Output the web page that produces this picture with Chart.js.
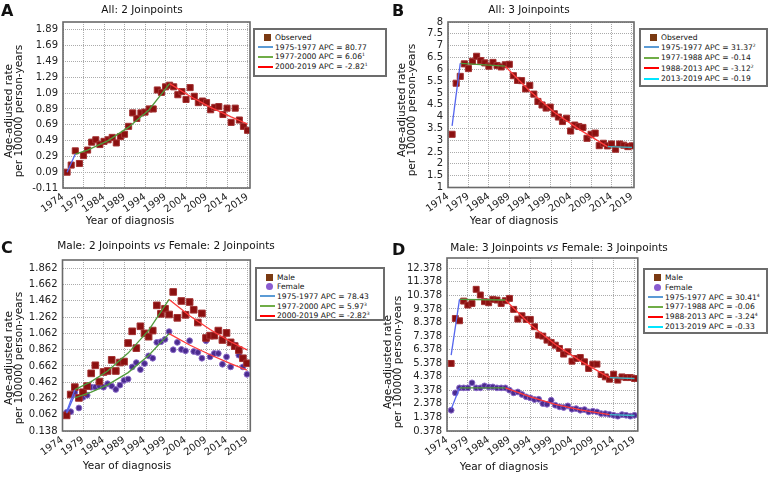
<!DOCTYPE html>
<html>
<head>
<meta charset="utf-8">
<script src="https://cdn.jsdelivr.net/npm/chart.js@4.4.1/dist/chart.umd.min.js"></script>
<style>
  body { margin: 0; background: #fff; width: 771px; height: 477px; position: relative; overflow: hidden;
         font-family: 'DejaVu Sans', Verdana, sans-serif; color: #111; }
  canvas { position: absolute; }
  .t { position: absolute; white-space: nowrap; font-size: 10.5px; transform: translate(-50%, -50%); }
  .letter { position: absolute; font-weight: bold; font-size: 16px; }
  .ytitle { position: absolute; font-size: 10.5px; line-height: 9.6px; text-align: center; white-space: nowrap;
            transform: translate(-50%, -50%) rotate(-90deg); }
  .legend { position: absolute; border: 2px solid #6c6c6c; background: #fff; box-sizing: border-box; font-size: 7.6px; }
  .row { position: absolute; left: 0; right: 0; height: 9px; line-height: 9px; white-space: nowrap; }
  sup { font-size: 4.5px; vertical-align: top; line-height: 5px; }
</style>
</head>
<body>
<canvas id="chartA" width="256" height="232" style="left:0;top:0"></canvas>
<canvas id="chartB" width="255" height="232" style="left:385px;top:0"></canvas>
<canvas id="chartC" width="256" height="232" style="left:0;top:235px"></canvas>
<canvas id="chartD" width="258" height="232" style="left:385px;top:235px"></canvas>

<div class="letter" style="left:1px;top:1px">A</div>
<div class="letter" style="left:392px;top:1px">B</div>
<div class="letter" style="left:1px;top:238px">C</div>
<div class="letter" style="left:392px;top:240px">D</div>

<div class="t" style="left:142px;top:8.5px">All: 2 Joinpoints</div>
<div class="t" style="left:529px;top:8.5px">All: 3 Joinpoints</div>
<div class="t" style="left:166px;top:245px">Male: 2 Joinpoints <i>vs</i> Female: 2 Joinpoints</div>
<div class="t" style="left:559px;top:247px">Male: 3 Joinpoints <i>vs</i> Female: 3 Joinpoints</div>

<div class="t" style="left:130px;top:220px">Year of diagnosis</div>
<div class="t" style="left:514px;top:220px">Year of diagnosis</div>
<div class="t" style="left:127px;top:465px">Year of diagnosis</div>
<div class="t" style="left:504px;top:466px">Year of diagnosis</div>

<div class="ytitle" style="left:14px;top:111px">Age-adjusted rate<br>per 100000 person-years</div>
<div class="ytitle" style="left:407px;top:110px">Age-adjusted rate<br>per 100000 person-years</div>
<div class="ytitle" style="left:14px;top:358px">Age-adjusted rate<br>per 100000 person-years</div>
<div class="ytitle" style="left:393px;top:362px">Age-adjusted rate<br>per 100000 person-years</div>

<script>
// years of observation
const years = [1975, 1976, 1977, 1978, 1979, 1980, 1981, 1982, 1983, 1984,
               1985, 1986, 1987, 1988, 1989, 1990, 1991, 1992, 1993, 1994,
               1995, 1996, 1997, 1998, 1999, 2000, 2001, 2002, 2003, 2004,
               2005, 2006, 2007, 2008, 2009, 2010, 2011, 2012, 2013, 2014,
               2015, 2016, 2017, 2018, 2019];
const xTicks = [1974, 1979, 1984, 1989, 1994, 1999, 2004, 2009, 2014, 2019];

// A: all, 2 joinpoints
const aObserved = [0.09, 0.18, 0.36, 0.20, 0.30, 0.37, 0.47, 0.50, 0.44, 0.48,
                   0.50, 0.53, 0.46, 0.54, 0.57, 0.67, 0.84, 0.77, 0.84, 0.85,
                   0.89, 0.89, 1.13, 1.10, 1.17, 1.19, 1.17, 1.07, 1.11, 1.01,
                   1.16, 1.05, 0.97, 0.99, 0.97, 0.88, 0.91, 0.92, 0.82, 0.90,
                   0.72, 0.90, 0.75, 0.67, 0.62];
const aBlueX = [1975, 1977], aBlueY = [0.09, 0.32];
const aGreenX = [1977, 1980, 1985, 1990, 1995, 2000], aGreenY = [0.32, 0.37, 0.49, 0.66, 0.88, 1.21];
const aRedX = [2000, 2005, 2010, 2015, 2019], aRedY = [1.21, 1.05, 0.91, 0.79, 0.70];
const aYTicks = [-0.11, 0.09, 0.29, 0.49, 0.69, 0.89, 1.09, 1.29, 1.49, 1.69, 1.89];
const aYLabels = ['-0.11', '0.09', '0.29', '0.49', '0.69', '0.89', '1.09', '1.29', '1.49', '1.69', '1.89'];

// B: all, 3 joinpoints
const bObserved = [3.25, 5.41, 5.70, 6.23, 6.03, 6.34, 6.55, 6.37, 6.27, 6.13,
                   6.29, 6.16, 6.10, 6.19, 6.21, 5.73, 5.53, 5.52, 5.17, 5.32,
                   4.95, 4.64, 4.49, 4.36, 4.40, 4.12, 3.98, 3.79, 3.93, 3.39,
                   3.64, 3.58, 3.54, 3.08, 3.25, 3.30, 2.77, 2.87, 2.76, 2.84,
                   2.62, 2.84, 2.79, 2.73, 2.76];
const bBlueX = [1975, 1977], bBlueY = [3.61, 6.25];
const bGreenX = [1977, 1988], bGreenY = [6.25, 6.13];
const bRedX = [1988, 1994, 2000, 2006, 2013], bRedY = [6.13, 5.08, 4.18, 3.47, 2.73];
const bCyanX = [2013, 2019], bCyanY = [2.73, 2.70];
const bYTicks = [1, 1.5, 2, 2.5, 3, 3.5, 4, 4.5, 5, 5.5, 6, 6.5, 7, 7.5, 8];
const bYLabels = ['1', '1.5', '2', '2.5', '3', '3.5', '4', '4.5', '5', '5.5', '6', '6.5', '7', '7.5', '8'];

// C: male vs female, 2 joinpoints
const cMale = [0.054, 0.311, 0.401, 0.269, 0.339, 0.414, 0.571, 0.670, 0.470, 0.588,
               0.600, 0.737, 0.600, 0.704, 0.716, 0.944, 1.088, 0.881, 1.150, 1.063,
               1.022, 1.097, 1.407, 1.303, 1.365, 1.295, 1.572, 1.254, 1.461, 1.291,
               1.448, 1.353, 1.196, 1.308, 1.006, 1.035, 1.035, 1.097, 0.981, 1.068,
               0.952, 0.906, 0.857, 0.757, 0.695];
const cFemale = [0.091, 0.099, 0.339, 0.145, 0.277, 0.302, 0.401, 0.401, 0.414, 0.401,
                 0.443, 0.414, 0.373, 0.426, 0.484, 0.501, 0.650, 0.703, 0.617, 0.691,
                 0.786, 0.757, 0.952, 0.960, 0.989, 1.084, 0.861, 0.952, 0.865, 0.848,
                 0.972, 0.840, 0.828, 0.757, 0.972, 0.774, 0.815, 0.815, 0.683, 0.774,
                 0.650, 0.919, 0.795, 0.650, 0.559];
const cBlueMX = [1975, 1977], cBlueMY = [0.10, 0.37];
const cBlueFX = [1975, 1977], cBlueFY = [0.08, 0.31];
const cGreenMX = [1977, 1981, 1985, 1990, 1995, 2000], cGreenMY = [0.37, 0.47, 0.60, 0.82, 1.10, 1.48];
const cGreenFX = [1977, 1981, 1985, 1990, 1995, 2000], cGreenFY = [0.27, 0.34, 0.43, 0.58, 0.79, 1.06];
const cRedMX = [2000, 2005, 2010, 2015, 2019], cRedMY = [1.48, 1.28, 1.11, 0.96, 0.86];
const cRedFX = [2000, 2005, 2010, 2015, 2019], cRedFY = [1.06, 0.92, 0.80, 0.69, 0.61];
const cYTicks = [-0.138, 0.062, 0.262, 0.462, 0.662, 0.862, 1.062, 1.262, 1.462, 1.662, 1.862];
const cYLabels = ['0.138', '0.062', '0.262', '0.462', '0.662', '0.862', '1.062', '1.262', '1.462', '1.662', '1.862'];

// D: male vs female, 3 joinpoints
const dMale = [5.36, 8.68, 8.51, 9.96, 9.67, 9.79, 10.83, 10.41, 9.92, 9.84,
               10.09, 10.04, 9.79, 9.99, 10.16, 9.35, 8.63, 8.88, 8.61, 8.61,
               8.07, 7.45, 7.38, 7.08, 6.91, 6.71, 6.47, 6.05, 6.22, 5.53,
               5.73, 5.80, 5.48, 4.99, 5.31, 5.31, 4.55, 4.37, 4.20, 4.57,
               4.13, 4.37, 4.32, 4.32, 4.25];
const dFemale = [1.91, 3.19, 3.56, 3.56, 3.56, 3.93, 3.56, 3.56, 3.71, 3.63,
                 3.63, 3.56, 3.56, 3.56, 3.39, 3.19, 3.26, 3.07, 2.90, 2.82,
                 2.70, 2.72, 2.40, 2.35, 2.65, 2.28, 2.16, 2.11, 2.23, 1.99,
                 2.03, 1.91, 1.96, 1.79, 1.84, 1.79, 1.66, 1.66, 1.61, 1.54,
                 1.47, 1.59, 1.54, 1.47, 1.54];
const dBlueMX = [1975, 1977], dBlueMY = [5.97, 10.09];
const dGreenMX = [1977, 1988], dGreenMY = [10.09, 10.04];
const dRedMX = [1988, 1994, 2000, 2006, 2013], dRedMY = [10.04, 8.24, 6.76, 5.55, 4.32];
const dCyanMX = [2013, 2019], dCyanMY = [4.32, 4.25];
const dBlueFX = [1975, 1977], dBlueFY = [1.99, 3.56];
const dGreenFX = [1977, 1988], dGreenFY = [3.56, 3.56];
const dRedFX = [1988, 1994, 2000, 2006, 2013], dRedFY = [3.56, 2.90, 2.34, 1.93, 1.59];
const dCyanFX = [2013, 2019], dCyanFY = [1.59, 1.52];
const dYTicks = [0.378, 1.378, 2.378, 3.378, 4.378, 5.378, 6.378, 7.378, 8.378, 9.378, 10.378, 11.378, 12.378];
const dYLabels = ['0.378', '1.378', '2.378', '3.378', '4.378', '5.378', '6.378', '7.378', '8.378', '9.378', '10.378', '11.378', '12.378'];

const COLORS = {
  blue: '#5566ee', green: '#4f9a3a', red: '#ff3b3b', cyan: '#40b8c8',
  square: '#8b1010', squareEdge: '#a33232', circle: '#4b2b8f', circleEdge: '#8a6ac8'
};
const LEGEND_COLORS = {
  blue: '#5b9bd5', green: '#70ad47', red: '#ff0000', cyan: '#00e5ff', square: '#7a3a12', circle: '#8a5cd0'
};

const pts = (xs, ys) => xs.map((x, i) => ({ x: x, y: ys[i] }));

function lineSet(xs, ys, color) {
  return { data: pts(xs, ys), showLine: true, borderColor: color, borderWidth: 1.3,
           pointRadius: 0, fill: false, tension: 0 };
}
function squareSet(ys, r) {
  return { data: pts(years, ys), pointStyle: 'rect', pointRadius: r,
           backgroundColor: COLORS.square, borderColor: COLORS.squareEdge, borderWidth: 1 };
}
function circleSet(ys, r) {
  return { data: pts(years, ys), pointStyle: 'circle', pointRadius: r,
           backgroundColor: COLORS.circle, borderColor: COLORS.circleEdge, borderWidth: 1 };
}

// grey frame round the plot area
const framePlugin = {
  id: 'frame',
  afterDraw(chart) {
    const a = chart.chartArea, ctx = chart.ctx;
    ctx.save();
    ctx.strokeStyle = '#6a6a6a';
    ctx.lineWidth = 1.6;
    ctx.strokeRect(a.left, a.top, a.right - a.left, a.bottom - a.top);
    ctx.restore();
  }
};

function makeChart(id, o) {
  const canvas = document.getElementById(id);
  const tickFont = { family: "'DejaVu Sans', Verdana, sans-serif", size: 10 };
  return new Chart(canvas, {
    type: 'scatter',
    data: { datasets: o.datasets },
    options: {
      responsive: false,
      animation: false,
      events: [],
      layout: { padding: { top: o.top, right: o.right, left: 0, bottom: 0 } },
      plugins: { legend: { display: false }, tooltip: { enabled: false } },
      scales: {
        x: {
          type: 'linear', min: 1974, max: o.xMax,
          afterBuildTicks: s => { s.ticks = xTicks.map(v => ({ value: v })); },
          afterFit: s => { s.height = o.xHeight; s.paddingLeft = 0; s.paddingRight = 0; },
          ticks: { autoSkip: false, minRotation: 35, maxRotation: 35, font: tickFont, color: '#222', padding: 3,
                   callback: v => String(v) },
          grid: { color: '#ababab', drawTicks: false },
          border: { display: false, dash: [1, 1] }
        },
        y: {
          min: o.yMin, max: o.yMax,
          afterBuildTicks: s => { s.ticks = o.yTicks.map(v => ({ value: v })); },
          afterFit: s => { s.width = o.yWidth; s.paddingTop = 0; s.paddingBottom = 0; },
          ticks: { autoSkip: false, font: tickFont, color: '#222', padding: 5, callback: (v, i) => o.yLabels[i] },
          grid: { color: '#ababab', drawTicks: false },
          border: { display: false, dash: [1, 1] }
        }
      }
    },
    plugins: [framePlugin]
  });
}

makeChart('chartA', {
  top: 22, right: 6, xHeight: 44, yWidth: 63, xMax: 2019.6, yMin: -0.11, yMax: 1.99,
  yTicks: aYTicks, yLabels: aYLabels,
  datasets: [
    lineSet(aBlueX, aBlueY, COLORS.blue),
    lineSet(aGreenX, aGreenY, COLORS.green),
    lineSet(aRedX, aRedY, COLORS.red),
    squareSet(aObserved, 4.3)
  ]
});

makeChart('chartB', {
  top: 22, right: 6, xHeight: 44.5, yWidth: 63, xMax: 2019.5, yMin: 1, yMax: 8,
  yTicks: bYTicks, yLabels: bYLabels,
  datasets: [
    lineSet(bBlueX, bBlueY, COLORS.blue),
    lineSet(bGreenX, bGreenY, COLORS.green),
    lineSet(bRedX, bRedY, COLORS.red),
    lineSet(bCyanX, bCyanY, COLORS.cyan),
    squareSet(bObserved, 4.3)
  ]
});

makeChart('chartC', {
  top: 25, right: 4.5, xHeight: 36, yWidth: 62.5, xMax: 2019.8, yMin: -0.138, yMax: 1.965,
  yTicks: cYTicks, yLabels: cYLabels,
  datasets: [
    lineSet(cBlueMX, cBlueMY, COLORS.blue),
    lineSet(cBlueFX, cBlueFY, COLORS.blue),
    lineSet(cGreenMX, cGreenMY, COLORS.green),
    lineSet(cGreenFX, cGreenFY, COLORS.green),
    lineSet(cRedMX, cRedMY, COLORS.red),
    lineSet(cRedFX, cRedFY, COLORS.red),
    squareSet(cMale, 4.7),
    circleSet(cFemale, 2.9)
  ]
});

makeChart('chartD', {
  top: 23, right: 3, xHeight: 36, yWidth: 62, xMax: 2019.8, yMin: 0.378, yMax: 13.14,
  yTicks: dYTicks, yLabels: dYLabels,
  datasets: [
    lineSet(dBlueMX, dBlueMY, COLORS.blue),
    lineSet(dGreenMX, dGreenMY, COLORS.green),
    lineSet(dRedMX, dRedMY, COLORS.red),
    lineSet(dCyanMX, dCyanMY, COLORS.cyan),
    lineSet(dBlueFX, dBlueFY, COLORS.blue),
    lineSet(dGreenFX, dGreenFY, COLORS.green),
    lineSet(dRedFX, dRedFY, COLORS.red),
    lineSet(dCyanFX, dCyanFY, COLORS.cyan),
    squareSet(dMale, 4.2),
    circleSet(dFemale, 2.9)
  ]
});

// legends
function legend(box, rows) {
  const el = document.createElement('div');
  el.className = 'legend';
  el.style.left = box.left + 'px';
  el.style.top = box.top + 'px';
  el.style.width = box.width + 'px';
  el.style.height = box.height + 'px';
  rows.forEach((r, i) => {
    const row = document.createElement('div');
    row.className = 'row';
    row.style.top = (box.rowTop + i * box.rowGap) + 'px';
    let sym;
    if (r.kind === 'line') {
      sym = `<span style="position:absolute;left:3px;top:3.5px;width:15px;height:2px;background:${r.color}"></span>`;
    } else if (r.kind === 'square') {
      sym = `<span style="position:absolute;left:9px;top:1px;width:7px;height:7px;background:${r.color}"></span>`;
    } else {
      sym = `<span style="position:absolute;left:9px;top:1px;width:7px;height:7px;border-radius:50%;background:${r.color}"></span>`;
    }
    row.innerHTML = sym + `<span style="position:absolute;left:20px;top:0">${r.text}</span>`;
    el.appendChild(row);
  });
  document.body.appendChild(el);
}

legend({ left: 253, top: 28, width: 134, height: 49, rowTop: 3, rowGap: 9.7 }, [
  { kind: 'square', color: LEGEND_COLORS.square, text: 'Observed' },
  { kind: 'line', color: LEGEND_COLORS.blue, text: '1975-1977 APC = 80.77' },
  { kind: 'line', color: LEGEND_COLORS.green, text: '1977-2000 APC = 6.06<sup>1</sup>' },
  { kind: 'line', color: LEGEND_COLORS.red, text: '2000-2019 APC = -2.82<sup>1</sup>' }
]);
legend({ left: 639, top: 28, width: 129, height: 59, rowTop: 2.5, rowGap: 10.4 }, [
  { kind: 'square', color: LEGEND_COLORS.square, text: 'Observed' },
  { kind: 'line', color: LEGEND_COLORS.blue, text: '1975-1977 APC = 31.37<sup>2</sup>' },
  { kind: 'line', color: LEGEND_COLORS.green, text: '1977-1988 APC = -0.14' },
  { kind: 'line', color: LEGEND_COLORS.red, text: '1988-2013 APC = -3.12<sup>2</sup>' },
  { kind: 'line', color: LEGEND_COLORS.cyan, text: '2013-2019 APC = -0.19' }
]);
legend({ left: 255, top: 267, width: 130, height: 54, rowTop: 3.5, rowGap: 9.7 }, [
  { kind: 'square', color: LEGEND_COLORS.square, text: 'Male' },
  { kind: 'circle', color: LEGEND_COLORS.circle, text: 'Female' },
  { kind: 'line', color: LEGEND_COLORS.blue, text: '1975-1977 APC = 78.43' },
  { kind: 'line', color: LEGEND_COLORS.green, text: '1977-2000 APC = 5.97<sup>3</sup>' },
  { kind: 'line', color: LEGEND_COLORS.red, text: '2000-2019 APC = -2.82<sup>3</sup>' }
]);
legend({ left: 643, top: 268, width: 125, height: 66, rowTop: 3, rowGap: 9.8 }, [
  { kind: 'square', color: LEGEND_COLORS.square, text: 'Male' },
  { kind: 'circle', color: LEGEND_COLORS.circle, text: 'Female' },
  { kind: 'line', color: LEGEND_COLORS.blue, text: '1975-1977 APC = 30.41<sup>4</sup>' },
  { kind: 'line', color: LEGEND_COLORS.green, text: '1977-1988 APC = -0.06' },
  { kind: 'line', color: LEGEND_COLORS.red, text: '1988-2013 APC = -3.24<sup>4</sup>' },
  { kind: 'line', color: LEGEND_COLORS.cyan, text: '2013-2019 APC = -0.33' }
]);
</script>
</body>
</html>
